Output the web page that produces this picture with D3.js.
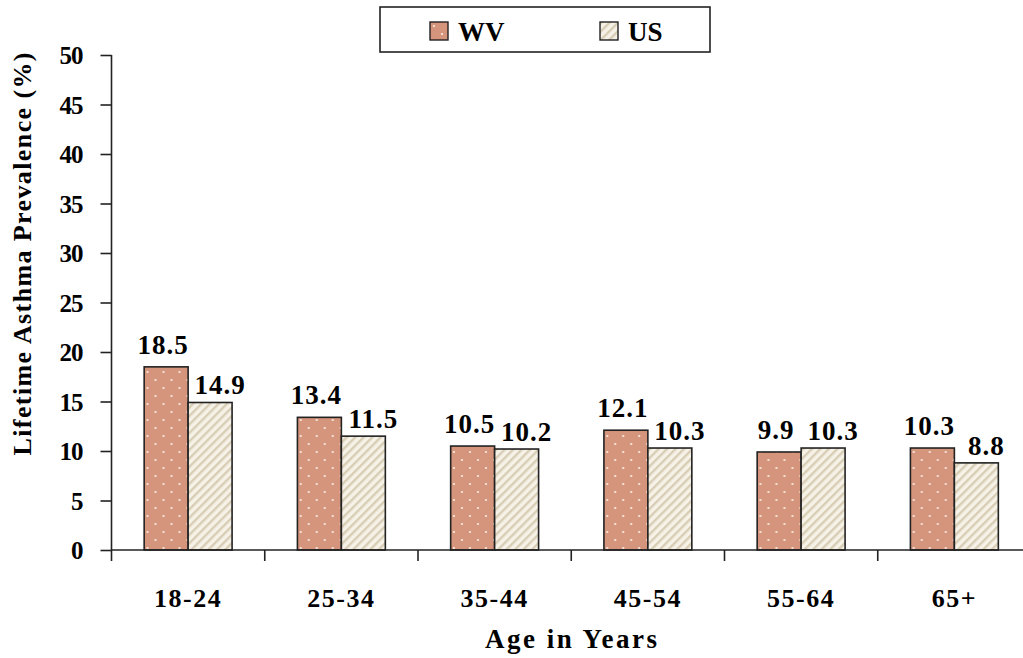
<!DOCTYPE html>
<html><head><meta charset="utf-8">
<script src="https://cdn.jsdelivr.net/npm/d3@7"></script>
<style>
html,body{margin:0;padding:0;background:#fff;}
svg{display:block;}
text{font-family:"Liberation Serif","Times New Roman",serif;font-weight:bold;fill:#000;}
</style></head>
<body>
<svg id="chart" width="1023" height="658"></svg>
<script>
const categories = ["18-24","25-34","35-44","45-54","55-64","65+"];
const seriesNames = ["WV","US"];
const wvValues = [18.5,13.4,10.5,12.1,9.9,10.3];
const usValues = [14.9,11.5,10.2,10.3,10.3,8.8];
const yTicks = [0,5,10,15,20,25,30,35,40,45,50];
const yTitle = "Lifetime Asthma Prevalence (%)";
const xTitle = "Age in Years";

(function(){
const svg = d3.select("#chart");
const defs = svg.append("defs");
const pd = defs.append("pattern").attr("id","dots").attr("patternUnits","userSpaceOnUse")
  .attr("width",16).attr("height",16);
pd.append("rect").attr("width",16).attr("height",16).attr("fill","#D5957C");
pd.append("circle").attr("cx",4).attr("cy",4).attr("r",1.1).attr("fill","#fbeee8");
pd.append("circle").attr("cx",12).attr("cy",12).attr("r",1.1).attr("fill","#fbeee8");
const ps = defs.append("pattern").attr("id","stripes").attr("patternUnits","userSpaceOnUse")
  .attr("width",6).attr("height",6).attr("patternTransform","rotate(45)");
ps.append("rect").attr("width",6).attr("height",6).attr("fill","#F6F2E8");
ps.append("rect").attr("x",0).attr("width",2.4).attr("height",6).attr("fill","#D8CDB5");

const fills = {WV:"url(#dots)", US:"url(#stripes)"};
const lblDx = {WV:-3, US:10};
const lblDy = {WV:-13, US:-8};

const mLeft = 111.5, mRight = 1031, mTop = 55, mBottom = 550;
const x0 = d3.scaleBand().domain(categories).range([mLeft,mRight]).paddingInner(0).paddingOuter(0);
const x1 = d3.scaleBand().domain(seriesNames).range([0,x0.bandwidth()]).paddingInner(0).paddingOuter(0.743);
const y = d3.scaleLinear().domain([0,50]).range([mBottom,mTop]);

const data = categories.map((c,i)=>({cat:c, vals:[{s:"WV",v:wvValues[i]},{s:"US",v:usValues[i]}]}));

const g = svg.append("g");
const groups = g.selectAll("g.grp").data(data).join("g").attr("class","grp")
  .attr("transform",d=>`translate(${x0(d.cat)},0)`);
groups.selectAll("rect").data(d=>d.vals).join("rect")
  .attr("x",d=>x1(d.s)).attr("width",x1.bandwidth())
  .attr("y",d=>y(d.v)).attr("height",d=>y(0)-y(d.v))
  .attr("fill",d=>fills[d.s]).attr("stroke","#222").attr("stroke-width",1.6);
groups.selectAll("text.lbl").data(d=>d.vals).join("text").attr("class","lbl")
  .attr("x",d=>x1(d.s)+x1.bandwidth()/2+lblDx[d.s])
  .attr("y",d=>y(d.v)+lblDy[d.s])
  .attr("text-anchor","middle").style("font-size","27px").style("letter-spacing","1px")
  .text(d=>d3.format(".1f")(d.v));

const yAxis = d3.axisLeft(y).tickValues(yTicks).tickSize(11).tickPadding(18).tickFormat(d3.format("d"));
const ya = svg.append("g").attr("transform",`translate(${mLeft},0)`).call(yAxis);
ya.selectAll("text").style("font-size","25px").style("letter-spacing","-1px").attr("dy","0.35em");
ya.selectAll("line,path").attr("stroke","#222").attr("stroke-width",1.6);
ya.select("path").attr("d",`M0,${mTop}V${mBottom}`);

const boundaries = categories.map(c=>x0(c)).concat([mRight]);
const xa = svg.append("g").attr("transform",`translate(0,${mBottom})`);
xa.append("line").attr("x1",mLeft).attr("x2",mRight).attr("stroke","#222").attr("stroke-width",1.6);
xa.selectAll("line.tk").data(boundaries).join("line").attr("class","tk")
  .attr("x1",d=>d).attr("x2",d=>d).attr("y1",0).attr("y2",11).attr("stroke","#222").attr("stroke-width",1.6);
xa.selectAll("text").data(categories).join("text")
  .attr("x",d=>x0(d)+x0.bandwidth()/2).attr("y",57)
  .attr("text-anchor","middle").style("font-size","26px").style("letter-spacing","1.5px")
  .text(d=>d);

svg.append("text").attr("x",571).attr("y",648).attr("text-anchor","middle")
  .style("font-size","27px").attr("textLength",172).attr("lengthAdjust","spacing").text(xTitle);
svg.append("text").attr("transform","translate(31,254) rotate(-90)").attr("text-anchor","middle")
  .style("font-size","26px").attr("textLength",403).attr("lengthAdjust","spacing").text(yTitle);

const lg = svg.append("g");
lg.append("rect").attr("x",380).attr("y",7).attr("width",330).attr("height",45)
  .attr("fill","#fff").attr("stroke","#222").attr("stroke-width",1.6);
const items = lg.selectAll("g.it").data(seriesNames).join("g").attr("class","it")
  .attr("transform",(d,i)=>`translate(${i===0?430:600},22)`);
items.append("rect").attr("width",18).attr("height",18).attr("fill",d=>fills[d])
  .attr("stroke","#222").attr("stroke-width",1.4);
items.append("text").attr("x",28).attr("y",19).style("font-size","27px").text(d=>d);
})();
</script>
</body></html>
